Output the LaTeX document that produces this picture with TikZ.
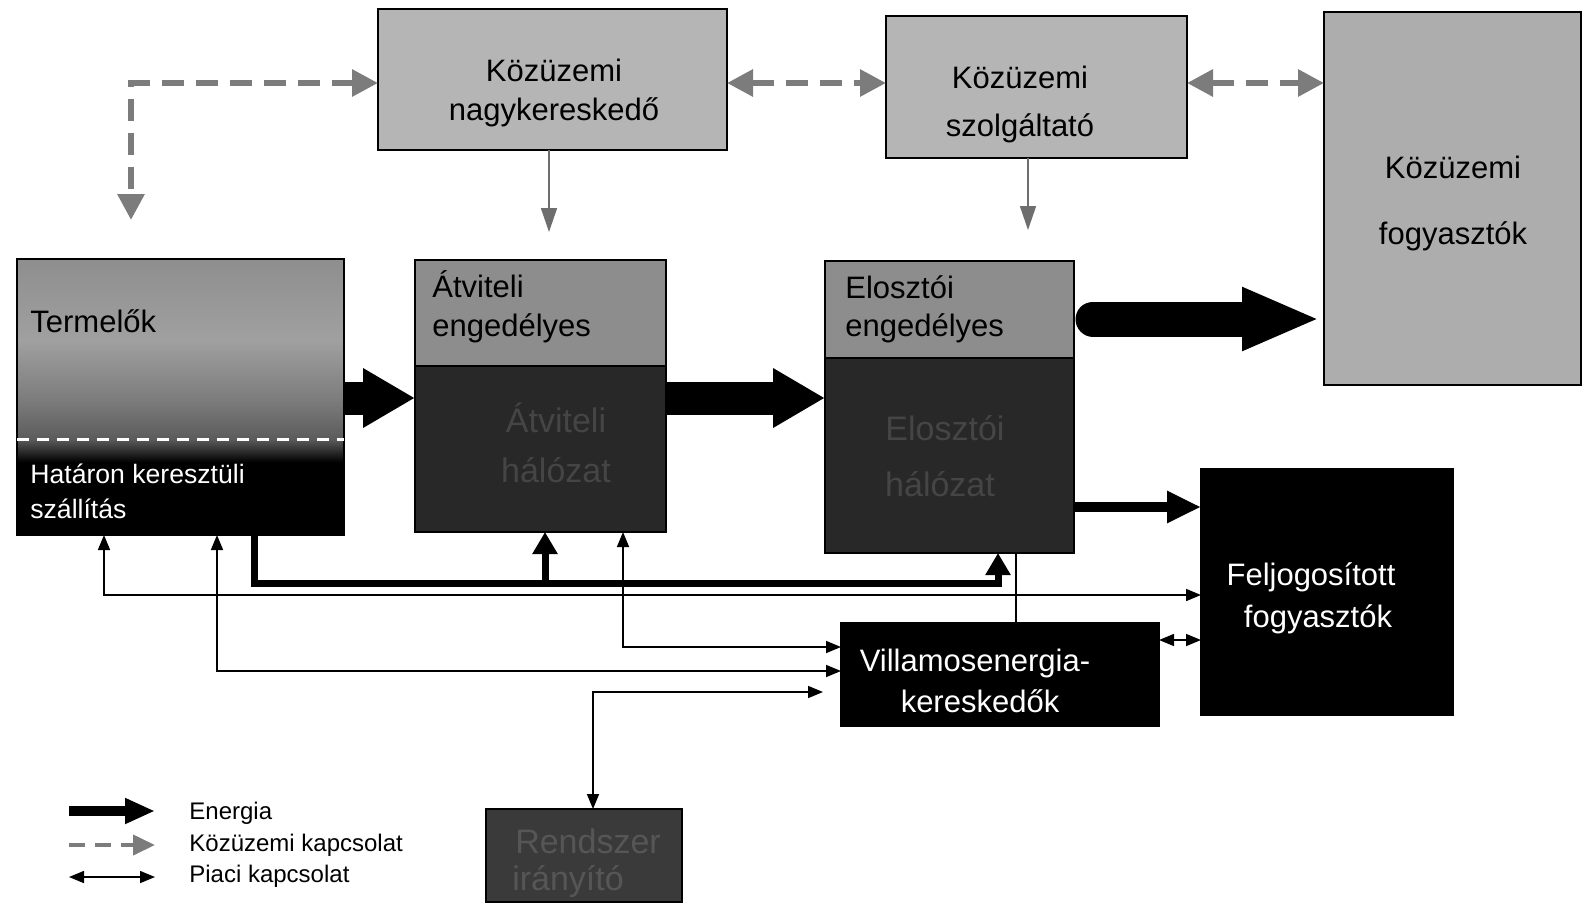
\documentclass[tikz,border=0pt]{standalone}
\usepackage{fontspec}
\setmainfont{Liberation Sans}
\usetikzlibrary{arrows.meta,calc}
\definecolor{lightbox}{HTML}{B5B5B5}
\definecolor{kfbox}{HTML}{ADADAD}
\definecolor{midbox}{HTML}{8D8D8D}
\definecolor{darkbox}{HTML}{282828}
\definecolor{dimtext}{HTML}{454545}
\definecolor{rendbox}{HTML}{3A3A3A}
\definecolor{rendtext}{HTML}{565656}
\definecolor{dashgray}{HTML}{7C7C7C}
\definecolor{thingray}{HTML}{6E6E6E}
\definecolor{tA}{HTML}{3A3A3A}
\definecolor{tB}{HTML}{5C5C5C}
\definecolor{tC}{HTML}{7C7C7C}
\definecolor{tD}{HTML}{A0A0A0}
\definecolor{tE}{HTML}{8E8E8E}
\pgfdeclareverticalshading{termshade}{100bp}{color(0bp)=(black); color(38.2bp)=(black); color(40.8bp)=(tA); color(42.4bp)=(tB); color(49.5bp)=(tC); color(60.3bp)=(tD); color(75bp)=(tE); color(100bp)=(tE)}
\begin{document}
\begin{tikzpicture}[x=0.5pt,y=-0.5pt,
  box/.style={draw=black, line width=1pt, inner sep=0pt, outer sep=0pt},
  txt/.style={font=\fontsize{15.5}{18}\selectfont, inner sep=0pt},
  smalltxt/.style={font=\fontsize{13.3}{16}\selectfont, inner sep=0pt, text=white, anchor=mid west},
  dimtxt/.style={font=\fontsize{17}{20}\selectfont, inner sep=0pt, text=dimtext},
  legtxt/.style={font=\fontsize{12}{14}\selectfont, inner sep=0pt, anchor=mid west},
  energy/.style={line width=16.5pt, -{Triangle[length=26pt,width=28pt]}},
  bus/.style={line width=3.5pt, -{Triangle[length=11pt,width=12pt]}},
  piaci/.style={line width=0.8pt, {Triangle[length=7.5pt,width=6pt]}-{Triangle[length=7.5pt,width=6pt]}},
  plain/.style={line width=0.8pt},
  grayarrow/.style={draw=thingray, line width=0.8pt, -{Triangle[length=12pt,width=8pt, fill=thingray]}},
  dsh/.style={draw=dashgray, line width=3pt, dash pattern=on 11pt off 6pt,
     {Triangle[length=13pt,width=13pt,fill=dashgray]}-{Triangle[length=13pt,width=13pt,fill=dashgray]}},
]
\fill[white] (0,0) rectangle (1584,905);
\useasboundingbox (0,0) rectangle (1584,905);

% ---- boxes ----
\node[box, fill=lightbox, minimum width=174.5pt, minimum height=70.5pt] (nk) at (552.5,79.5) {};
\node[box, fill=lightbox, minimum width=150.5pt, minimum height=71pt] (sz) at (1036.5,87) {};
\node[box, fill=kfbox, minimum width=128.5pt, minimum height=186.5pt] (kf) at (1452.5,198.5) {};
\node[box, shading=termshade, minimum width=163.5pt, minimum height=138pt] (term) at (180.5,397) {};
\node[box, fill=darkbox, minimum width=125.5pt, minimum height=136pt] (atv) at (540.5,396) {};
\node[box, fill=darkbox, minimum width=124.5pt, minimum height=146pt] (elo) at (949.5,407) {};
\node[box, fill=black, minimum width=126pt, minimum height=123pt] (fel) at (1327,592) {};
\node[box, fill=black, minimum width=159pt, minimum height=51.5pt] (vil) at (1000,674.5) {};
\node[box, fill=rendbox, minimum width=98pt, minimum height=46.5pt] (rend) at (584,855.5) {};

% upper parts of the licence boxes
\fill[midbox] (atv.north west) rectangle (atv.east |- 0,366);
\draw[line width=1pt] (atv.west |- 0,366) -- (atv.east |- 0,366);
\draw[line width=1pt] (atv.north west) rectangle (atv.south east);
\fill[midbox] (elo.north west) rectangle (elo.east |- 0,358);
\draw[line width=1pt] (elo.west |- 0,358) -- (elo.east |- 0,358);
\draw[line width=1pt] (elo.north west) rectangle (elo.south east);
% white dashed line in Termelok
\draw[white, line width=1.5pt, dash pattern=on 6pt off 4pt] (term.west |- 0,439) -- (term.east |- 0,439);

% ---- texts ----
\node[txt] (t1) at (554,70) {Közüzemi};
\node[txt] (t2) at (554,112) {nagykereskedő};
\node[txt] (t3) at (1020,77) {Közüzemi};
\node[txt] (t4) at (1020,128) {szolgáltató};
\node[txt] (t5) at (1453,167) {Közüzemi};
\node[txt] (t6) at (1453,236) {fogyasztók};
\node[txt, anchor=mid west] (t7) at (30,327) {Termelők};
\node[smalltxt] (t8) at (30,478) {Határon keresztüli};
\node[smalltxt] (t9) at (30,513) {szállítás};
\node[txt, anchor=mid west] (t10) at (432,292) {Átviteli};
\node[txt, anchor=mid west] (t11) at (432,331) {engedélyes};
\node[dimtxt] (t12) at (556,418) {Átviteli};
\node[dimtxt] (t13) at (556,470) {hálózat};
\node[txt, anchor=mid west] (t14) at (845,293) {Elosztói};
\node[txt, anchor=mid west] (t15) at (845,331) {engedélyes};
\node[dimtxt] (t16) at (945,428) {Elosztói};
\node[dimtxt] (t17) at (940,484) {hálózat};
\node[txt, text=white] (t18) at (1311,577) {Feljogosított};
\node[txt, text=white] (t19) at (1318,619) {fogyasztók};
\node[txt, text=white] (t20) at (975,663) {Villamosenergia-};
\node[txt, text=white] (t21) at (980,701) {kereskedők};
\node[dimtxt, text=rendtext] (t22) at (588,841) {Rendszer};
\node[dimtxt, text=rendtext] (t23) at (568,881) {irányító};

% ---- dashed utility connections ----
\draw[dsh] (nk.west |- 0,83) -| (131,220);
\draw[dsh] (nk.east |- 0,83) -- (sz.west |- 0,83);
\draw[dsh] (sz.east |- 0,83) -- (kf.west |- 0,83);

% ---- gray thin arrows ----
\draw[grayarrow] (nk.south -| 549,0) -- (549,232);
\draw[grayarrow] (sz.south -| 1028,0) -- (1028,230);

% ---- energy ----
\draw[energy] (term.east |- 0,398) -- (atv.west |- 0,398);
\draw[energy] (atv.east |- 0,398) -- (elo.west |- 0,398);
\draw[line width=17.5pt, line cap=round, -{Triangle[length=39pt,width=29pt]}]
  ($(elo.east |- 0,319)+(19,0)$) -- ($(kf.west |- 0,319)+(-4,0)$);
\draw[line width=5pt, -{Triangle[length=17pt,width=15pt]}] (elo.east |- 0,507) -- (fel.west |- 0,507);

% bus
\coordinate (busj) at (545,583);
\draw[bus] (term.south -| 254,0) |- (998,583) -- (elo.south -| 998,0);
\draw[bus] (busj) -- (atv.south -| busj);

% ---- market connections ----
\draw[piaci] (term.south -| 104,0) |- (fel.west |- 0,595);
\draw[piaci] (term.south -| 217,0) |- (vil.west |- 0,671);
\draw[piaci] (atv.south -| 623,0) |- (vil.west |- 0,647);
\coordinate (rv) at ($(vil.west |- 0,692)+(-18,0)$);
\draw[piaci] (rend.north -| 593,0) |- (rv);
\draw[plain] (vil.north -| 1016,0) -- (elo.south -| 1016,0);
\draw[piaci] (vil.east |- 0,640) -- (fel.west |- 0,640);

% ---- legend ----
\coordinate (le1) at (69,811); \coordinate (le2) at (155,811);
\coordinate (lk1) at (69,845); \coordinate (lk2) at (155,845);
\coordinate (lp1) at (69,877); \coordinate (lp2) at (155,877);
\draw[line width=5pt, -{Triangle[length=15pt,width=12pt]}] (le1) -- (le2);
\draw[draw=dashgray, line width=2pt, dash pattern=on 8pt off 5pt, -{Triangle[length=11pt,width=10pt,fill=dashgray]}] (lk1) -- (lk2);
\draw[piaci] (lp1) -- (lp2);
\node[legtxt] (l1) at (189,814) {Energia};
\node[legtxt] (l2) at (189,846) {Közüzemi kapcsolat};
\node[legtxt] (l3) at (189,877) {Piaci kapcsolat};
\end{tikzpicture}
\end{document}
